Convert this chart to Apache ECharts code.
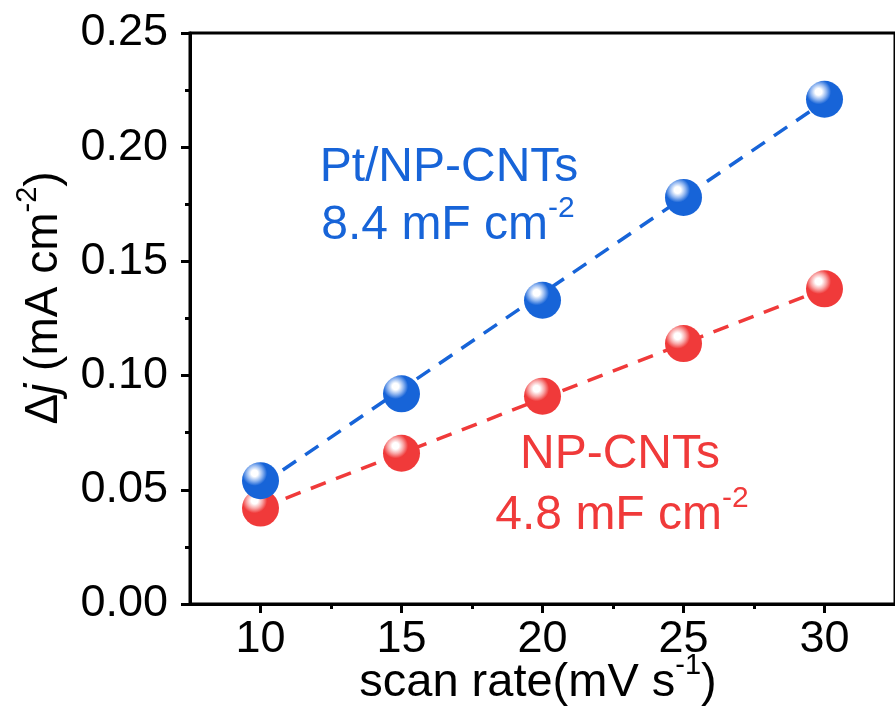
<!DOCTYPE html>
<html>
<head>
<meta charset="utf-8">
<script src="https://cdn.jsdelivr.net/npm/echarts@6/dist/echarts.min.js"></script>
<style>
  html, body { margin: 0; padding: 0; background: #fff; }
  #chart { width: 895px; height: 719px; }
</style>
</head>
<body>
<div id="chart"></div>
<script>
// scan rate (mV s-1)
var scanRates = [10, 15, 20, 25, 30];
// Δj (mA cm-2)
var ptNpCnts = [0.054, 0.092, 0.133, 0.178, 0.221];
var npCnts = [0.042, 0.066, 0.091, 0.114, 0.138];
// linear fit end points
var ptFit = [[10, 0.052], [30, 0.220]];
var npFit = [[10, 0.042], [30, 0.138]];
var majorX = [10, 15, 20, 25, 30];
var minorX = [12.5, 17.5, 22.5, 27.5];

var FONT = "Liberation Sans, Arial, sans-serif";
var BLUE = "#1764d8";
var RED = "#f03a3a";

function ball(base, light) {
  return {
    type: "radial", x: 0.34, y: 0.3, r: 0.75,
    colorStops: [
      { offset: 0, color: "#ffffff" },
      { offset: 0.12, color: "#ffffff" },
      { offset: 0.28, color: light },
      { offset: 0.45, color: base },
      { offset: 1, color: base }
    ]
  };
}

function pairs(xs, ys) {
  return xs.map(function (x, i) { return [x, ys[i]]; });
}

function richFor(color, size) {
  return {
    n: { fontSize: size, fontFamily: FONT, lineHeight: size + 8, verticalAlign: "bottom", fill: color },
    i: { fontSize: size, fontFamily: FONT, fontStyle: "italic", lineHeight: size + 8, verticalAlign: "bottom", fill: color },
    s: { fontSize: Math.round(size * 0.62), fontFamily: FONT, lineHeight: size + 8, verticalAlign: "top", fill: color }
  };
}

var chart = echarts.init(document.getElementById("chart"));
chart.setOption({
  backgroundColor: "#fff",
  animation: false,
  grid: {
    left: 190, top: 33, right: -4, bottom: 115,
    show: true, borderColor: "#000", borderWidth: 3
  },
  xAxis: [{
    type: "value", min: 7.5, max: 32.5,
    axisLine: { lineStyle: { color: "#000", width: 3 } },
    axisTick: { show: true, length: 9, lineStyle: { width: 3, color: "#000" }, customValues: majorX },
    axisLabel: { customValues: majorX, fontSize: 45, color: "#000", fontFamily: FONT, margin: 13 },
    splitLine: { show: false }
  }, {
    type: "value", min: 7.5, max: 32.5, position: "bottom",
    axisLine: { show: false },
    axisTick: { show: true, length: 5, lineStyle: { width: 3, color: "#000" }, customValues: minorX },
    axisLabel: { show: false },
    splitLine: { show: false }
  }],
  yAxis: {
    type: "value", min: 0, max: 0.25, interval: 0.05,
    axisLine: { show: true, lineStyle: { color: "#000", width: 3 } },
    axisTick: { show: true, length: 9, lineStyle: { width: 3, color: "#000" } },
    minorTick: { show: true, splitNumber: 2, length: 5, lineStyle: { width: 3, color: "#000" } },
    axisLabel: {
      fontSize: 45, color: "#000", fontFamily: FONT, margin: 22,
      formatter: function (v) { return v.toFixed(2); }
    },
    splitLine: { show: false }
  },
  series: [
    {
      type: "line", data: ptFit, symbol: "none", z: 2,
      lineStyle: { color: BLUE, width: 3.5, type: [16, 11] }
    },
    {
      type: "line", data: npFit, symbol: "none", z: 2,
      lineStyle: { color: RED, width: 3.5, type: [16, 11] }
    },
    {
      type: "scatter", data: pairs(scanRates, npCnts), symbolSize: 37, z: 3,
      itemStyle: { color: ball(RED, "#f8a8a8"), opacity: 1 }
    },
    {
      type: "scatter", data: pairs(scanRates, ptNpCnts), symbolSize: 37, z: 4,
      itemStyle: { color: ball(BLUE, "#94b8f0"), opacity: 1 }
    }
  ],
  graphic: [
    {
      type: "text", x: 449, y: 168, z: 10,
      style: { text: "Pt/NP-CNTs", fill: BLUE, font: "48px " + FONT, align: "center", verticalAlign: "middle" }
    },
    {
      type: "text", x: 448, y: 222, z: 10,
      style: {
        text: "{n|8.4 mF cm}{s|-2}", align: "center", verticalAlign: "middle",
        rich: richFor(BLUE, 48)
      }
    },
    {
      type: "text", x: 620, y: 455, z: 10,
      style: { text: "NP-CNTs", fill: RED, font: "48px " + FONT, align: "center", verticalAlign: "middle" }
    },
    {
      type: "text", x: 622, y: 512, z: 10,
      style: {
        text: "{n|4.8 mF cm}{s|-2}", align: "center", verticalAlign: "middle",
        rich: richFor(RED, 48)
      }
    },
    {
      type: "text", x: 538, y: 679, z: 10,
      style: {
        text: "{n|scan rate(mV s}{s|-1}{n|)}", align: "center", verticalAlign: "middle",
        rich: richFor("#000", 47)
      }
    },
    {
      type: "text", x: 40, y: 298, rotation: Math.PI / 2, z: 10,
      style: {
        text: "{n|Δ}{i|j}{n| (mA cm}{s|-2}{n|)}", align: "center", verticalAlign: "middle",
        rich: richFor("#000", 46)
      }
    }
  ]
});
</script>
</body>
</html>
